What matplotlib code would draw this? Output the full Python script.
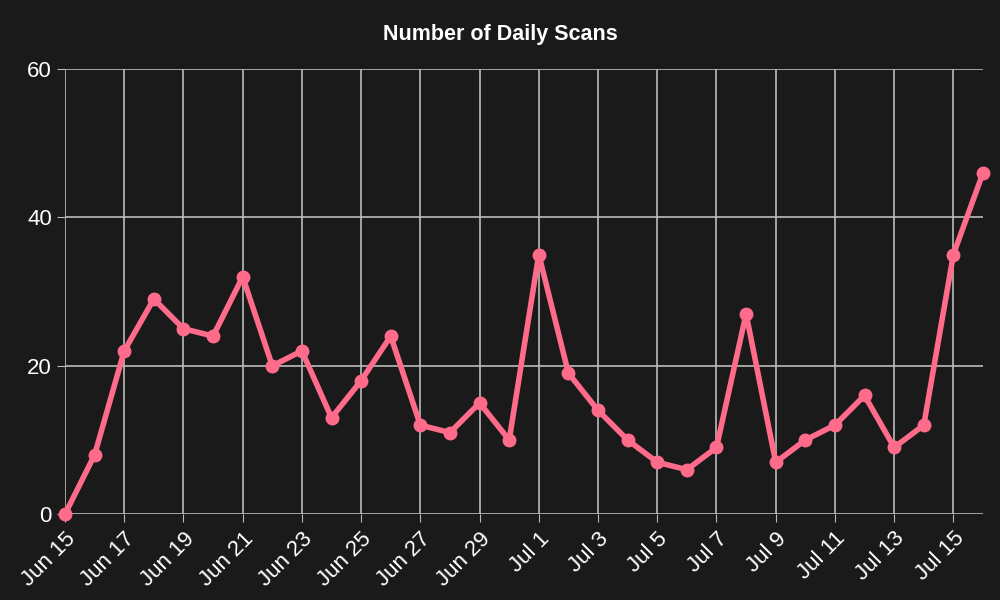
import matplotlib
matplotlib.use("Agg")
import matplotlib.pyplot as plt
import pandas as pd

dates = pd.date_range("2024-06-15", "2024-07-16", freq="D")
values = [0, 8, 22, 29, 25, 24, 32, 20, 22, 13, 18, 24, 12, 11, 15, 10,
          35, 19, 14, 10, 7, 6, 9, 27, 7, 10, 12, 16, 9, 12, 35, 46]

plt.rcParams['font.family'] = ['Liberation Sans', 'DejaVu Sans']
bg = '#1a1a1a'
fig = plt.figure(figsize=(10, 6), dpi=100, facecolor=bg)
ax = fig.add_axes([0.065, 0.143, 0.918, 0.742], facecolor=bg)
ax.plot(dates, values, color='#ff6b8a', lw=4, marker='o', ms=9, clip_on=False, zorder=3)
ax.set_xlim(dates[0], dates[-1])
ax.set_ylim(0, 60)
ax.set_yticks([0, 20, 40, 60])
ticks = dates[::2]
ax.set_xticks(ticks)
ax.set_xticklabels([f"{d.strftime('%b')} {d.day}" for d in ticks], rotation=45, ha='right',
                   rotation_mode='anchor')
ax.grid(True, color='#bbbbbb', lw=1.2)
for s in ax.spines.values():
    s.set_visible(False)
ax.tick_params(colors='white', labelsize=16, length=6, color='#bbbbbb')
ax.tick_params(axis='x', pad=4)
fig.text(0.5, 0.943, "Number of Daily Scans", color='white', fontsize=15.5,
         fontweight='bold', ha='center', va='center')
fig.savefig("out.png", facecolor=bg)
